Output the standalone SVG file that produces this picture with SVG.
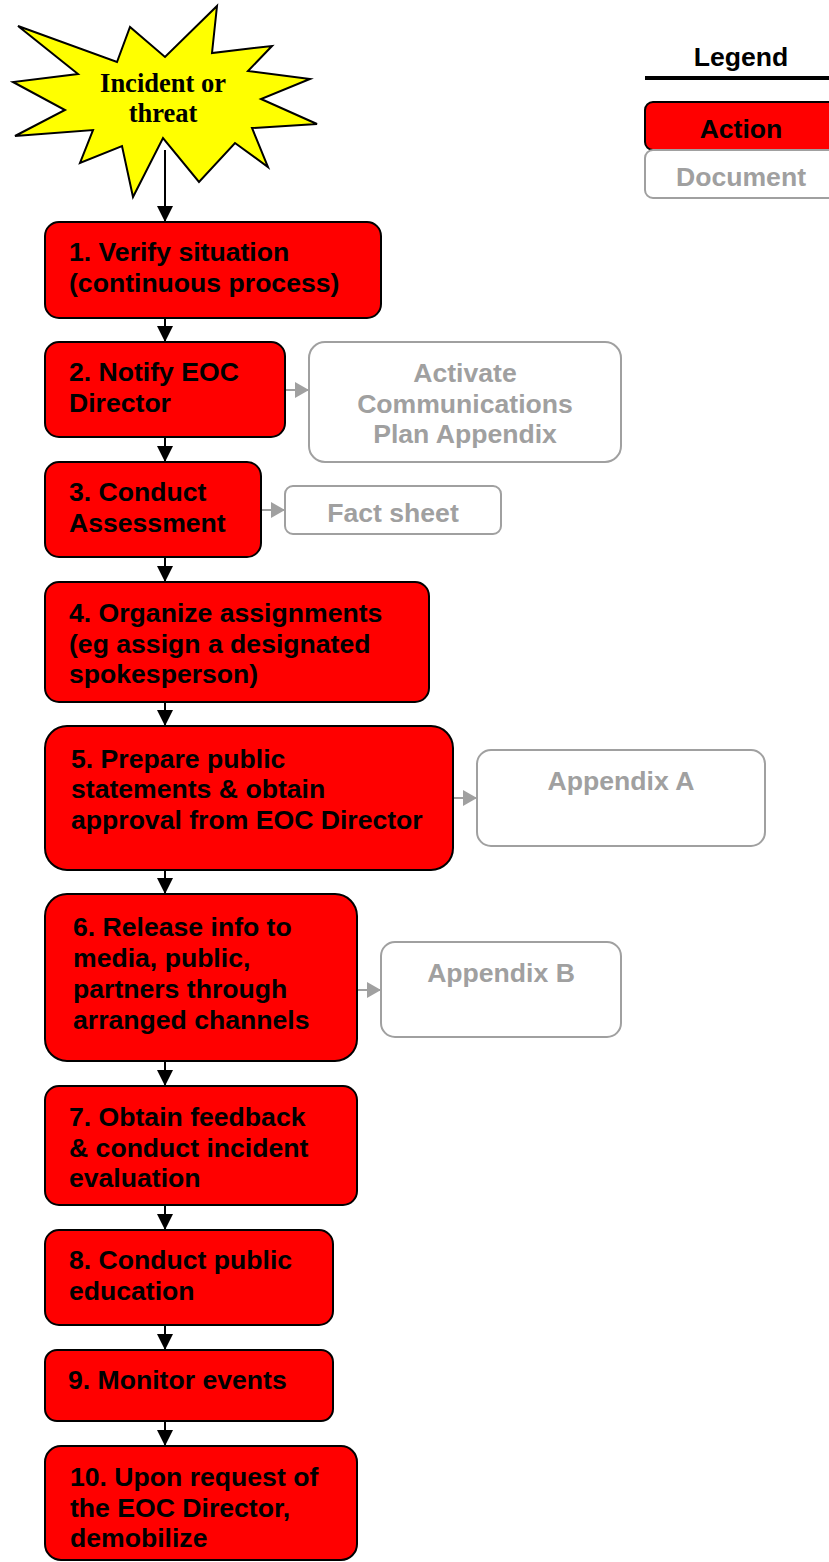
<svg xmlns="http://www.w3.org/2000/svg" width="829" height="1562" viewBox="0 0 829 1562">
  <style>
    .action { fill: #FF0000; stroke: #000000; stroke-width: 2; }
    .doc { fill: #FFFFFF; stroke: #A0A0A0; stroke-width: 2; }
    .lbl { font-family: "Liberation Sans", Arial, sans-serif; font-weight: bold; font-size: 26.6px; fill: #000000; }
    .dlbl { font-family: "Liberation Sans", Arial, sans-serif; font-weight: bold; font-size: 26.6px; fill: #A0A0A0; text-anchor: middle; }
    .star-lbl { font-family: "Liberation Serif", "Times New Roman", serif; font-weight: bold; font-size: 26.5px; fill: #000000; text-anchor: middle; }
    .flow { stroke: #000000; stroke-width: 2; fill: none; marker-end: url(#arrow-black); }
    .ref { stroke: #A0A0A0; stroke-width: 2; fill: none; marker-end: url(#arrow-gray); }
  </style>
  <defs>
    <marker id="arrow-black" markerUnits="userSpaceOnUse" markerWidth="16" markerHeight="16" refX="16" refY="8" orient="auto">
      <path d="M0,0 L16,8 L0,16 z" fill="#000000"/>
    </marker>
    <marker id="arrow-gray" markerUnits="userSpaceOnUse" markerWidth="14" markerHeight="16" refX="14" refY="8" orient="auto">
      <path d="M0,0 L14,8 L0,16 z" fill="#A0A0A0"/>
    </marker>
  </defs>

  <rect width="829" height="1562" fill="#FFFFFF"/>

  <!-- Legend -->
  <g id="legend">
    <text class="lbl" x="741" y="66" text-anchor="middle">Legend</text>
    <line x1="645" y1="78" x2="829" y2="78" stroke="#000000" stroke-width="4"/>
    <rect class="action" x="645" y="102" width="200" height="48" rx="8"/>
    <text class="lbl" x="741" y="138" text-anchor="middle">Action</text>
    <rect class="doc" x="645" y="150" width="200" height="48" rx="8"/>
    <text class="dlbl" x="741" y="186">Document</text>
  </g>

  <!-- Connectors -->
  <g id="connectors">
    <line class="flow" x1="165" y1="150" x2="165" y2="222"/>
    <line class="flow" x1="165" y1="318" x2="165" y2="342"/>
    <line class="flow" x1="165" y1="437" x2="165" y2="462" stroke-width="3"/>
    <line class="flow" x1="165" y1="557" x2="165" y2="582"/>
    <line class="flow" x1="165" y1="702" x2="165" y2="726"/>
    <line class="flow" x1="165" y1="870" x2="165" y2="894"/>
    <line class="flow" x1="165" y1="1061" x2="165" y2="1086"/>
    <line class="flow" x1="165" y1="1205" x2="165" y2="1230"/>
    <line class="flow" x1="165" y1="1325" x2="165" y2="1350"/>
    <line class="flow" x1="165" y1="1421" x2="165" y2="1446"/>
    <line class="ref" x1="285" y1="390" x2="309" y2="390"/>
    <line class="ref" x1="261" y1="510" x2="285" y2="510"/>
    <line class="ref" x1="453" y1="798" x2="477" y2="798"/>
    <line class="ref" x1="357" y1="990" x2="381" y2="990"/>
  </g>

  <!-- Start: incident starburst -->
  <g id="incident">
    <polygon points="18,26 117,62 130,27 165,57 217,6 212,53 272,46 248,71 310,79 261,99 317,124 252,128 268,167 235,143 199,182 163,138 133,197 122,146 80,163 93,130 15,136 65,110 13,82 78,74"
             fill="#FFFF00" stroke="#000000" stroke-width="2" stroke-linejoin="miter"/>
    <text class="star-lbl" x="163" y="92">Incident or</text>
    <text class="star-lbl" x="163" y="122">threat</text>
  </g>

  <g id="step1">
    <rect class="action" x="45" y="222" width="336" height="96" rx="14"/>
    <text class="lbl" x="69" y="261">1. Verify situation</text>
    <text class="lbl" x="69" y="292">(continuous process)</text>
  </g>

  <g id="step2">
    <rect class="action" x="45" y="342" width="240" height="95" rx="14"/>
    <text class="lbl" x="69" y="381">2. Notify EOC</text>
    <text class="lbl" x="69" y="412">Director</text>
  </g>

  <g id="doc-comm-plan">
    <rect class="doc" x="309" y="342" width="312" height="120" rx="16"/>
    <text class="dlbl" x="465" y="382">Activate</text>
    <text class="dlbl" x="465" y="413">Communications</text>
    <text class="dlbl" x="465" y="443">Plan Appendix</text>
  </g>

  <g id="step3">
    <rect class="action" x="45" y="462" width="216" height="95" rx="14"/>
    <text class="lbl" x="69" y="501">3. Conduct</text>
    <text class="lbl" x="69" y="532">Assessment</text>
  </g>

  <g id="doc-fact-sheet">
    <rect class="doc" x="285" y="486" width="216" height="48" rx="8"/>
    <text class="dlbl" x="393" y="522">Fact sheet</text>
  </g>

  <g id="step4">
    <rect class="action" x="45" y="582" width="384" height="120" rx="14"/>
    <text class="lbl" x="69" y="622">4. Organize assignments</text>
    <text class="lbl" x="69" y="653">(eg assign a designated</text>
    <text class="lbl" x="69" y="683">spokesperson)</text>
  </g>

  <g id="step5">
    <rect class="action" x="45" y="726" width="408" height="144" rx="22"/>
    <text class="lbl" x="71" y="768">5. Prepare public</text>
    <text class="lbl" x="71" y="798">statements &amp; obtain</text>
    <text class="lbl" x="71" y="829">approval from EOC Director</text>
  </g>

  <g id="doc-appendix-a">
    <rect class="doc" x="477" y="750" width="288" height="96" rx="14"/>
    <text class="dlbl" x="621" y="790">Appendix A</text>
  </g>

  <g id="step6">
    <rect class="action" x="45" y="894" width="312" height="167" rx="22"/>
    <text class="lbl" x="73" y="936">6. Release info to</text>
    <text class="lbl" x="73" y="967">media, public,</text>
    <text class="lbl" x="73" y="998">partners through</text>
    <text class="lbl" x="73" y="1029">arranged channels</text>
  </g>

  <g id="doc-appendix-b">
    <rect class="doc" x="381" y="942" width="240" height="95" rx="14"/>
    <text class="dlbl" x="501" y="982">Appendix B</text>
  </g>

  <g id="step7">
    <rect class="action" x="45" y="1086" width="312" height="119" rx="14"/>
    <text class="lbl" x="69" y="1126">7. Obtain feedback</text>
    <text class="lbl" x="69" y="1157">&amp; conduct incident</text>
    <text class="lbl" x="69" y="1187">evaluation</text>
  </g>

  <g id="step8">
    <rect class="action" x="45" y="1230" width="288" height="95" rx="14"/>
    <text class="lbl" x="69" y="1269">8. Conduct public</text>
    <text class="lbl" x="69" y="1300">education</text>
  </g>

  <g id="step9">
    <rect class="action" x="45" y="1350" width="288" height="71" rx="12"/>
    <text class="lbl" x="68" y="1389">9. Monitor events</text>
  </g>

  <g id="step10">
    <rect class="action" x="45" y="1446" width="312" height="114" rx="16"/>
    <text class="lbl" x="70" y="1486">10. Upon request of</text>
    <text class="lbl" x="70" y="1517">the EOC Director,</text>
    <text class="lbl" x="70" y="1547">demobilize</text>
  </g>
</svg>
